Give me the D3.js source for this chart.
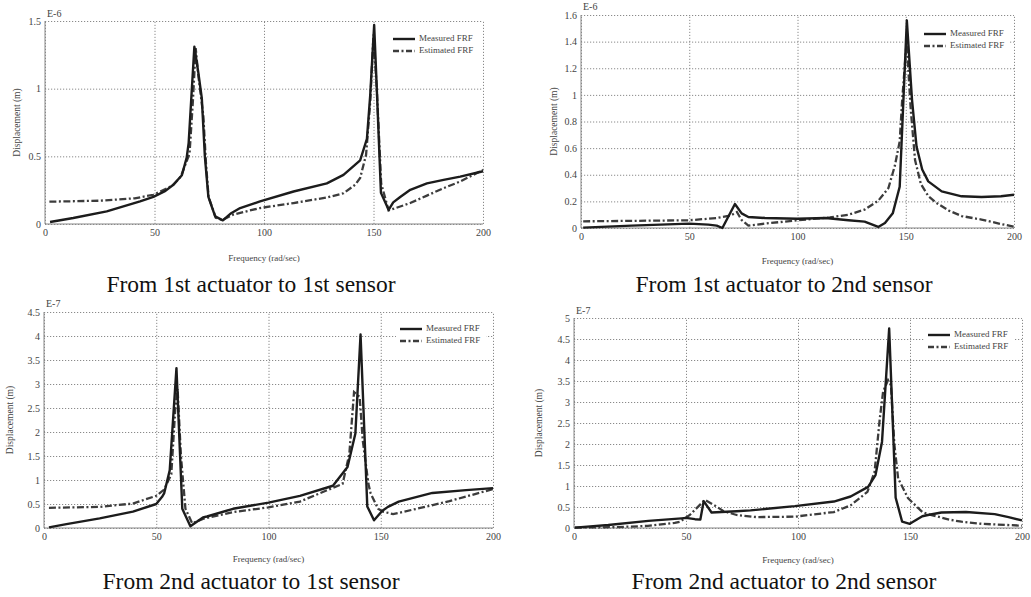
<!DOCTYPE html>
<html>
<head>
<meta charset="utf-8">
<script src="https://cdn.jsdelivr.net/npm/d3@7"></script>
<style>
  html, body { margin: 0; padding: 0; background: #fff; }
  svg { display: block; }
  text { font-family: "Liberation Serif", "Times New Roman", serif; }
</style>
</head>
<body>
<svg id="chart" width="1031" height="597"></svg>
<script>
// Frequency axis ticks shared by all four panels (rad/sec)
const freqTicks = [0, 50, 100, 150, 200];

// Panel titles (below each plot)
const captions = [
  "From 1st actuator to 1st sensor",
  "From 1st actuator to 2nd sensor",
  "From 2nd actuator to 1st sensor",
  "From 2nd actuator to 2nd sensor"
];
const exponents = ["E-6", "E-6", "E-7", "E-7"];
const seriesNames = ["Measured FRF", "Estimated FRF"];

// Displacement tick values per panel (in units of the exponent label)
const yTicksA = [0, 0.5, 1, 1.5];
const yTicksB = [0, 0.2, 0.4, 0.6, 0.8, 1, 1.2, 1.4, 1.6];
const yTicksC = [0, 0.5, 1, 1.5, 2, 2.5, 3, 3.5, 4, 4.5];
const yTicksD = [0, 0.5, 1, 1.5, 2, 2.5, 3, 3.5, 4, 4.5, 5];

// [frequency, displacement] — 1st actuator to 1st sensor (x1e-6 m)
const measuredA = [[2.3,0.015],[12.9,0.044],[28.2,0.093],[43.4,0.167],[49.5,0.2],[55,0.245],[58.6,0.29],[62.5,0.36],[64.7,0.49],[65.6,0.6],[68.2,1.31],[70,1.12],[71.6,0.93],[73,0.5],[74.6,0.2],[77.7,0.056],[81.2,0.027],[85,0.08],[89.1,0.118],[98.2,0.167],[113.5,0.24],[128.7,0.3],[136.3,0.363],[143.9,0.47],[147,0.63],[148.5,0.95],[150.3,1.47],[151.5,1.0],[153.4,0.23],[156.9,0.105],[159,0.16],[162.2,0.2],[166.8,0.253],[174.4,0.3],[182,0.326],[189.6,0.35],[200,0.39]];
const estimatedA = [[2,0.165],[25,0.172],[41,0.19],[49.5,0.216],[56,0.265],[58.6,0.29],[62,0.35],[66,0.52],[67.5,0.9],[68.8,1.3],[70,1.1],[72.3,0.8],[73.5,0.45],[74.7,0.2],[78,0.045],[81,0.03],[86,0.07],[98.2,0.118],[113.5,0.155],[128.7,0.196],[136.3,0.227],[141.6,0.29],[143.9,0.34],[146.6,0.51],[148.5,0.9],[150,1.4],[151.5,1.0],[153.5,0.3],[156.9,0.1],[166.8,0.155],[174.4,0.21],[182,0.265],[189.6,0.314],[200,0.4]];

// 1st actuator to 2nd sensor (x1e-6 m)
const measuredB = [[1,0.003],[23.4,0.018],[50,0.033],[58.8,0.025],[62.7,0.018],[65.3,0.0],[71.1,0.18],[74.2,0.11],[77.3,0.083],[85,0.075],[100,0.07],[113,0.075],[123.5,0.058],[131,0.048],[137.3,0.008],[140.4,0.038],[144,0.11],[147.2,0.31],[148.5,0.8],[150.5,1.56],[152.9,0.96],[155,0.61],[157.6,0.44],[160.4,0.35],[166.6,0.275],[175.8,0.238],[185,0.233],[194,0.238],[200,0.25]];
const estimatedB = [[1,0.05],[50,0.058],[62.8,0.075],[69,0.093],[72,0.12],[74.2,0.06],[77.3,0.018],[85,0.033],[100,0.058],[115,0.08],[123.5,0.1],[131,0.138],[137.3,0.205],[142,0.3],[145,0.47],[147.2,0.65],[148.3,0.95],[150.4,1.4],[152.3,0.89],[154.3,0.51],[157,0.33],[160.4,0.24],[164,0.19],[170,0.13],[175.8,0.09],[185,0.063],[194,0.03],[200,0.01]];

// 2nd actuator to 1st sensor (x1e-7 m)
const measuredC = [[2.2,0.014],[10,0.08],[24.8,0.2],[39.6,0.34],[50,0.5],[52.6,0.65],[53.5,0.72],[56,1.2],[59,3.33],[61.6,0.4],[65.2,0.035],[70.8,0.22],[72.6,0.24],[84.2,0.4],[100,0.53],[114,0.67],[128.7,0.88],[135.2,1.27],[138.7,1.97],[141,4.03],[144,0.45],[147,0.16],[150.7,0.36],[153.2,0.44],[158,0.55],[173,0.73],[188,0.79],[200,0.83]];
const estimatedC = [[2.2,0.42],[24.8,0.44],[39.6,0.51],[50,0.67],[53.5,0.8],[56.7,1.12],[58.5,2.5],[59.5,2.9],[61,1.5],[63,0.4],[66,0.1],[70.8,0.19],[84,0.33],[100,0.43],[114,0.55],[125.8,0.78],[133,0.92],[136,1.54],[138.1,2.83],[140.6,2.73],[142,1.82],[144.5,0.92],[145.5,0.72],[148.8,0.4],[151,0.34],[155.5,0.29],[166,0.4],[180.6,0.56],[200,0.81]];

// 2nd actuator to 2nd sensor (x1e-7 m)
const measuredD = [[0.4,0.01],[15.3,0.07],[33.2,0.17],[48,0.23],[50,0.24],[54,0.21],[56.4,0.2],[57.9,0.64],[61.4,0.37],[72.6,0.4],[78.8,0.42],[98.6,0.52],[116,0.63],[123.5,0.75],[131.3,0.98],[134.6,1.26],[137.5,2.05],[140.7,4.75],[143.6,0.72],[146.5,0.15],[149.9,0.1],[155.5,0.28],[158,0.31],[164,0.37],[175,0.38],[187.8,0.33],[194,0.26],[200,0.18]];
const estimatedD = [[0.4,0.01],[18,0.02],[33,0.05],[45,0.12],[47.3,0.15],[51.7,0.31],[58.4,0.67],[63.6,0.51],[66.8,0.4],[72.6,0.31],[81.5,0.26],[98.6,0.27],[116,0.38],[123.5,0.54],[131,0.86],[134.2,1.34],[136.5,2.6],[138,3.25],[140.2,3.52],[141.5,3.4],[143,2.0],[144.7,1.18],[149.1,0.71],[155.5,0.38],[158,0.33],[167.5,0.2],[173,0.15],[182,0.1],[200,0.055]];

// Plot frames and text anchors for each panel
const layout = [
  { left: 45,  right: 483,  top: 21,  bottom: 224, ylabX: 18,  xlabY: 261, capY: 292, capX: 251, expY: 17,  legX: 393, legY: 39, ticks: yTicksA, meas: measuredA, est: estimatedA },
  { left: 581, right: 1014, top: 15,  bottom: 228, ylabX: 555, xlabY: 264, capY: 292, capX: 784, expY: 10,  legX: 924, legY: 34, ticks: yTicksB, meas: measuredB, est: estimatedB },
  { left: 44,  right: 493,  top: 312, bottom: 528, ylabX: 11,  xlabY: 562, capY: 589, capX: 251, expY: 307, legX: 400, legY: 329, ticks: yTicksC, meas: measuredC, est: estimatedC },
  { left: 574, right: 1022, top: 318, bottom: 528, ylabX: 540, xlabY: 563, capY: 589, capX: 784, expY: 314, legX: 928, legY: 335, ticks: yTicksD, meas: measuredD, est: estimatedD }
];

const svg = d3.select("#chart");
const gridColor = "#8a8a8a";
const dashDot = "7,2.5,2,2.5";

layout.forEach((p, i) => {
  const x = d3.scaleLinear().domain([0, 200]).range([p.left, p.right]);
  const yMax = p.ticks[p.ticks.length - 1];
  const y = d3.scaleLinear().domain([0, yMax]).range([p.bottom, p.top]);
  const g = svg.append("g");
  const w = p.right - p.left, h = p.bottom - p.top;

  // dotted grid drawn through the axis generators
  const gx = g.append("g").attr("transform", `translate(0,${p.bottom})`)
    .call(d3.axisBottom(x).tickValues(freqTicks).tickSize(-h).tickFormat(""));
  const gy = g.append("g").attr("transform", `translate(${p.left},0)`)
    .call(d3.axisLeft(y).tickValues(p.ticks).tickSize(-w).tickFormat(""));
  [gx, gy].forEach(a => {
    a.select(".domain").remove();
    a.selectAll("line").attr("stroke", gridColor).attr("stroke-width", 1).attr("stroke-dasharray", "1.2,1.8");
  });

  // solid left and bottom frame
  g.append("line").attr("x1", p.left).attr("x2", p.left).attr("y1", p.top).attr("y2", p.bottom)
    .attr("stroke", "#888").attr("stroke-width", 1);
  g.append("line").attr("x1", p.left).attr("x2", p.right).attr("y1", p.bottom).attr("y2", p.bottom)
    .attr("stroke", "#888").attr("stroke-width", 1.2);

  // tick labels
  const lx = g.append("g").attr("transform", `translate(0,${p.bottom})`)
    .call(d3.axisBottom(x).tickValues(freqTicks).tickSize(0).tickPadding(5));
  const ly = g.append("g").attr("transform", `translate(${p.left},0)`)
    .call(d3.axisLeft(y).tickValues(p.ticks).tickSize(0).tickPadding(4).tickFormat(d3.format("")));
  [lx, ly].forEach(a => {
    a.select(".domain").remove();
    a.selectAll("text").attr("font-family", "Liberation Serif, serif").attr("font-size", 10).attr("fill", "#444");
  });

  // exponent marker above the y axis
  g.append("text").attr("x", p.left + 2).attr("y", p.expY).attr("font-size", 10).attr("fill", "#444").text(exponents[i]);

  // axis titles
  g.append("text").attr("x", (p.left + p.right) / 2).attr("y", p.xlabY).attr("text-anchor", "middle")
    .attr("font-size", 9).attr("fill", "#444").text("Frequency (rad/sec)");
  g.append("text").attr("transform", `translate(${p.ylabX},${(p.top + p.bottom) / 2}) rotate(-90)`)
    .attr("text-anchor", "middle").attr("dominant-baseline", "middle")
    .attr("font-size", 9.5).attr("fill", "#444").text("Displacement (m)");

  // caption
  g.append("text").attr("x", p.capX).attr("y", p.capY).attr("text-anchor", "middle")
    .attr("font-size", 23.5).attr("fill", "#111").text(captions[i]);

  // FRF curves
  const line = d3.line().x(d => x(d[0])).y(d => y(d[1]));
  g.append("path").datum(p.est).attr("d", line).attr("fill", "none")
    .attr("stroke", "#3c3c3c").attr("stroke-width", 2.3).attr("stroke-dasharray", dashDot);
  g.append("path").datum(p.meas).attr("d", line).attr("fill", "none")
    .attr("stroke", "#1c1c1c").attr("stroke-width", 2.4).attr("stroke-linejoin", "round");

  // legend
  const lg = g.append("g");
  lg.append("rect").attr("x", p.legX - 4).attr("y", p.legY - 8).attr("width", 90).attr("height", 24).attr("fill", "#fff");
  seriesNames.forEach((name, k) => {
    const yy = p.legY + k * 12;
    lg.append("line").attr("x1", p.legX).attr("x2", p.legX + 22).attr("y1", yy).attr("y2", yy)
      .attr("stroke", k === 0 ? "#1c1c1c" : "#3c3c3c").attr("stroke-width", 2.4)
      .attr("stroke-dasharray", k === 0 ? null : "6,2.5,2,2.5");
    lg.append("text").attr("x", p.legX + 26).attr("y", yy).attr("dominant-baseline", "middle")
      .attr("font-size", 9).attr("fill", "#444").text(name);
  });
});
</script>
</body>
</html>
